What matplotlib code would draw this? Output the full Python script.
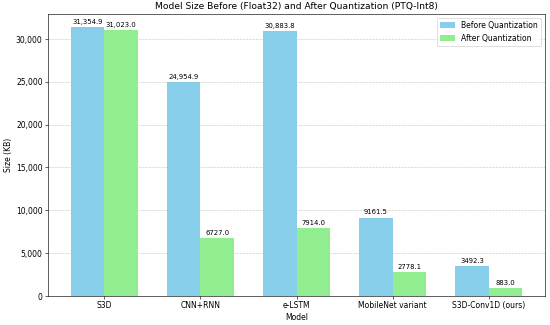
import numpy as np
import matplotlib
matplotlib.use('Agg')
from matplotlib import pyplot as plt

# dados
models = ['S3D', 'CNN+RNN', 'e-LSTM', 'MobileNet variant', 'S3D-Conv1D (ours)']
before = [31354.9, 24954.9, 30883.8, 9161.5, 3492.3]
after = [31023.0, 6727.0, 7914.0, 2778.1, 883.0]

def fmt(v):
    return f"{v:,.1f}" if v >= 10000 else f"{v:.1f}"

x = np.arange(len(models))
w = 0.35

fig, ax = plt.subplots(figsize=(10, 5.91), dpi=55)
b1 = ax.bar(x - w/2, before, w, label='Before Quantization', color='skyblue')
b2 = ax.bar(x + w/2, after, w, label='After Quantization', color='lightgreen')

for bars in (b1, b2):
    for b in bars:
        h = b.get_height()
        ax.annotate(fmt(h), xy=(b.get_x() + b.get_width()/2, h), xytext=(0, 3),
                    textcoords='offset points', ha='center', va='bottom', fontsize=9)

ax.set_xlabel('Model')
ax.set_ylabel('Size (KB)')
ax.set_title('Model Size Before (Float32) and After Quantization (PTQ-Int8)', fontsize=12)
ax.set_xticks(x)
ax.set_xticklabels(models)
ax.yaxis.set_major_formatter(matplotlib.ticker.FuncFormatter(lambda v, p: f"{int(v):,}"))
ax.legend()
ax.grid(axis='y', linestyle='--', alpha=0.7)
ax.set_axisbelow(True)

plt.subplots_adjust(left=48/550, right=545/550, top=1-14/325, bottom=1-296/325)
plt.savefig('out.png')
